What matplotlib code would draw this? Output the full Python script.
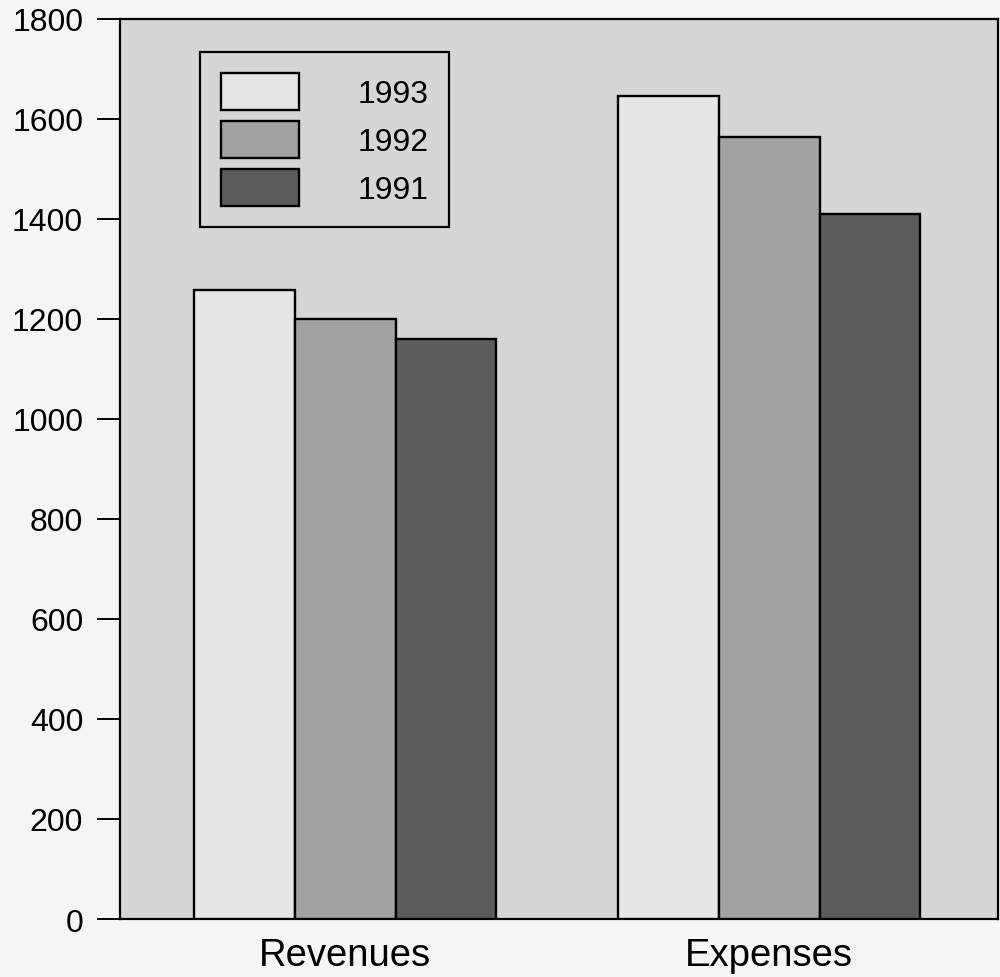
import numpy as np
import matplotlib
matplotlib.use("Agg")
from matplotlib import pyplot as plt

categories = ["Revenues", "Expenses"]
years = ["1993", "1992", "1991"]
values_1993 = [1258, 1645]
values_1992 = [1200, 1563]
values_1991 = [1159, 1409]

COLORS = {"1993": "#e6e6e6", "1992": "#a2a2a2", "1991": "#5c5c5c"}


def run():
    plt.rcParams["font.family"] = ["Liberation Sans", "DejaVu Sans"]
    fig = plt.figure(figsize=(10, 9.78), dpi=100, facecolor="#f5f5f5")
    ax = fig.add_axes([0.12, 0.0593, 0.878, 0.9203])
    ax.set_facecolor("#d6d6d6")

    x = np.arange(len(categories))
    width = 0.238
    series = {"1993": values_1993, "1992": values_1992, "1991": values_1991}
    for i, year in enumerate(years):
        ax.bar(
            x + (i - 1) * width,
            series[year],
            width,
            color=COLORS[year],
            edgecolor="black",
            linewidth=1.7,
            label=year,
            zorder=3,
        )

    ax.set_xlim(-0.531, 1.540)
    ax.set_ylim(0, 1800)
    ax.set_yticks(range(0, 1801, 200))
    ax.set_xticks(x)
    ax.set_xticklabels(categories, fontsize=27.5)
    ax.tick_params(axis="x", length=0, pad=13)
    ax.tick_params(axis="y", direction="out", length=16.5, width=1.4, labelsize=23, pad=10)
    for spine in ax.spines.values():
        spine.set_linewidth(1.6)

    leg = ax.legend(
        loc="upper left",
        bbox_to_anchor=(0.091, 0.963),
        borderaxespad=0,
        fontsize=23,
        handlelength=2.44,
        handleheight=1.4,
        handletextpad=1.84,
        labelspacing=0.35,
        borderpad=0.65,
        fancybox=False,
        framealpha=1,
        facecolor="#d6d6d6",
        edgecolor="black",
    )
    leg.get_frame().set_linewidth(1.6)

    fig.savefig("out.png", dpi=100, facecolor=fig.get_facecolor())


if __name__ == "__main__":
    run()
